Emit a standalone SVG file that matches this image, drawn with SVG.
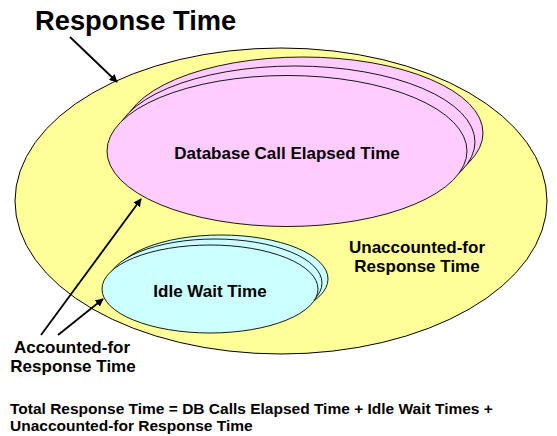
<svg xmlns="http://www.w3.org/2000/svg" width="557" height="436" viewBox="0 0 557 436">
<style>
text{font-family:"Liberation Sans",Arial,sans-serif;font-weight:bold;fill:#000}
.lbl{font-size:17px;text-anchor:middle}
.outer{fill:#FFFF99;stroke:#000;stroke-width:1}
.pink{fill:#FFCCFF;stroke:#000;stroke-width:0.9}
.cyan{fill:#CCFFFF;stroke:#000;stroke-width:0.9}
.conn{stroke:#000;stroke-width:1.8;fill:none;marker-end:url(#ah)}
</style>
<defs>
<marker id="ah" viewBox="0 0 10 10" refX="9" refY="5" markerWidth="4.5" markerHeight="4.5" orient="auto" markerUnits="strokeWidth">
<path d="M0,0 L10,5 L0,10 z" fill="#000"/>
</marker>
</defs>
<rect width="557" height="436" fill="#fff"/>
<g id="response-time">
<ellipse class="outer" cx="281" cy="201" rx="266" ry="153"/>
<text x="35" y="30" style="font-size:27.3px">Response Time</text>
</g>
<g id="db-call-elapsed">
<ellipse class="pink" cx="303" cy="133" rx="180" ry="76"/>
<ellipse class="pink" cx="295" cy="142" rx="180" ry="76"/>
<ellipse class="pink" cx="287" cy="151" rx="180" ry="75.5"/>
<text class="lbl" x="287" y="159">Database Call Elapsed Time</text>
</g>
<g id="idle-wait">
<ellipse class="cyan" cx="221" cy="279" rx="107" ry="44"/>
<ellipse class="cyan" cx="215" cy="283" rx="107" ry="44"/>
<ellipse class="cyan" cx="210" cy="289" rx="108" ry="44"/>
<text class="lbl" x="210" y="297">Idle Wait Time</text>
</g>
<g id="unaccounted">
<text class="lbl" x="417" y="253">Unaccounted-for</text>
<text class="lbl" x="417" y="272">Response Time</text>
</g>
<g id="accounted">
<text class="lbl" x="72" y="353">Accounted-for</text>
<text class="lbl" x="73" y="372">Response Time</text>
</g>
<g id="formula">
<text x="10" y="414" style="font-size:15.5px">Total Response Time = DB Calls Elapsed Time + Idle Wait Times +</text>
<text x="10" y="431" style="font-size:15.5px">Unaccounted-for Response Time</text>
</g>
<g id="connectors">
<line class="conn" x1="70" y1="37" x2="117" y2="82"/>
<line class="conn" x1="41" y1="335" x2="141" y2="199"/>
<line class="conn" x1="58" y1="335" x2="103" y2="299"/>
</g>
</svg>
